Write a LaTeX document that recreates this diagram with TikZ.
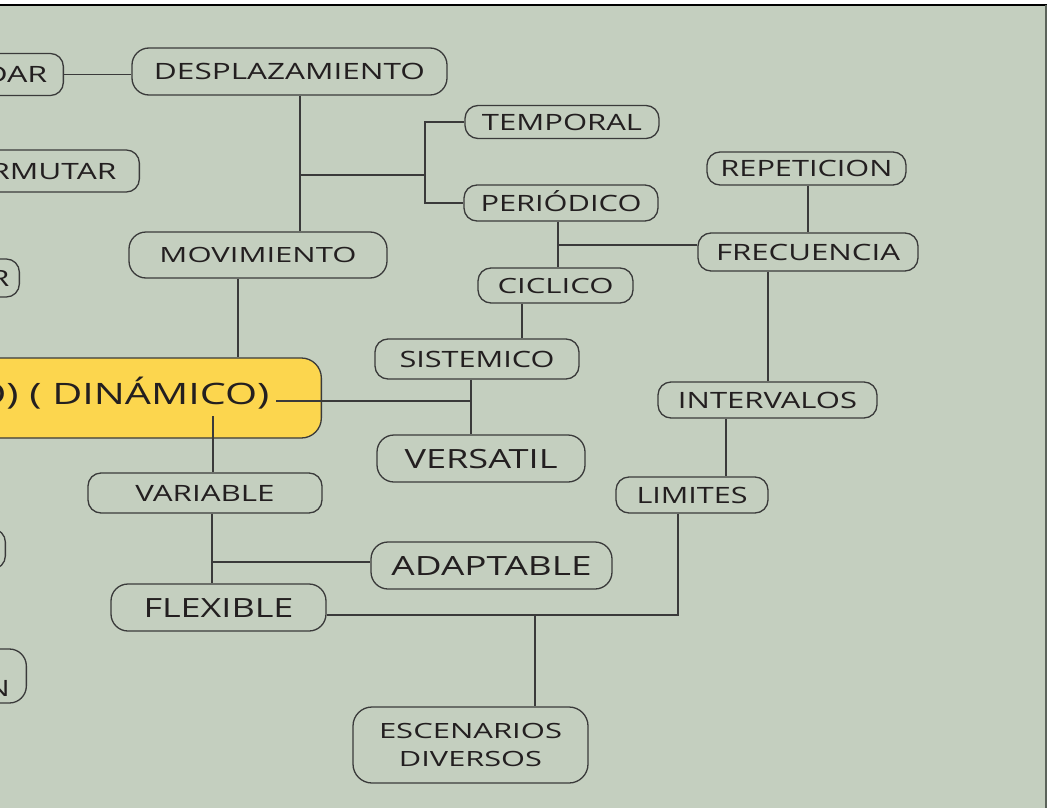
\documentclass[tikz,border=0pt]{standalone}
\usepackage{fontspec}
\setmainfont{Open Sans}
\usepackage{graphicx}
\definecolor{bg}{HTML}{C4CFBF}
\definecolor{yel}{HTML}{FCD64E}
\definecolor{linec}{HTML}{3A3A3A}
\definecolor{txt}{HTML}{231F20}
\definecolor{framec}{HTML}{5B635A}
\newcommand\tw[2]{\resizebox{#1pt}{\height}{#2}}
\begin{document}
\begin{tikzpicture}[x=1pt,y=-1pt,
  box/.style={draw=linec, line width=1.3pt, rounded corners=13pt, inner sep=0pt, text=txt},
  boxl/.style={box, rounded corners=17pt},
  fa/.style={font=\fontsize{22.5}{27}\selectfont, text height=16pt, text depth=0pt},
  fs/.style={font=\fontsize{21}{26}\selectfont, text height=15pt, text depth=0pt},
  fb/.style={font=\fontsize{26.5}{32}\selectfont, text height=19pt, text depth=0pt},
  con/.style={draw=linec, line width=1.3pt}]
\useasboundingbox (0,0) rectangle (1052,808);
\fill[white] (0,0) rectangle (1052,808);
\fill[bg] (0,5) rectangle (1046,808);
\begin{scope}
\clip (0,5) rectangle (1045,808);
% nodes
\node[boxl, fa, minimum width=315, minimum height=47] (desp) at (289.5,71.5) {\tw{271}{DESPLAZAMIENTO}};
\node[box, fa, minimum width=194, minimum height=33] (temp) at (562,122) {\tw{160}{TEMPORAL}};
\node[box, fa, minimum width=194, minimum height=36] (peri) at (561,203) {\tw{161}{PERIÓDICO}};
\node[box, fs, minimum width=155, minimum height=35] (cicl) at (555.5,285.5) {\tw{116}{CICLICO}};
\node[box, fa, minimum width=204, minimum height=40] (sist) at (477,359) {\tw{155}{SISTEMICO}};
\node[boxl, fb, minimum width=208, minimum height=47] (vers) at (481,458.5) {\tw{153}{VERSATIL}};
\node[box, fa, minimum width=199, minimum height=33] (repe) at (806.5,168.5) {\tw{172}{REPETICION}};
\node[box, fa, minimum width=220, minimum height=38] (frec) at (808,252) {\tw{184}{FRECUENCIA}};
\node[box, fa, minimum width=219, minimum height=36] (inte) at (767.5,400) {\tw{179}{INTERVALOS}};
\node[box, fa, minimum width=152, minimum height=36] (limi) at (692,495) {\tw{111}{LIMITES}};
\node[boxl, fs, minimum width=258, minimum height=46] (movi) at (258,255) {\tw{197}{MOVIMIENTO}};
\node[box, fa, minimum width=234, minimum height=40] (vari) at (205,493) {\tw{139}{VARIABLE}};
\node[boxl, fb, minimum width=215, minimum height=47] (flex) at (218.5,607.5) {\tw{150}{FLEXIBLE}};
\node[boxl, fb, minimum width=241, minimum height=47] (adap) at (491.5,565.5) {\tw{200}{ADAPTABLE}};
\node[boxl, rounded corners=19pt, font=\fontsize{21}{28}\selectfont, align=center, minimum width=235, minimum height=76] (esce) at (470.5,745) {\tw{183}{ESCENARIOS}\\\tw{143}{DIVERSOS}};
% partial nodes at the left edge
\node[box, fa, anchor=east, inner xsep=16pt, minimum height=42] (dar) at (64,74.5) {\tw{63}{DAR}};
\node[box, fa, anchor=east, inner xsep=23pt, minimum height=42] (rmut) at (140,171) {\tw{126}{RMUTAR}};
\node[box, fa, anchor=east, inner xsep=10pt, minimum height=38] (rr) at (20,278) {\tw{19}{R}};
\node[box, anchor=east, minimum width=100, minimum height=40] (e1) at (6,549) {};
\node[boxl, anchor=east, minimum width=100, minimum height=54] (e2) at (27,676) {};
\node[fa, text=txt, anchor=east, inner sep=0pt] (e2t) at (10,688.5) {\tw{23}{N}};
\node[draw=linec, fill=yel, line width=1.3pt, rounded corners=20pt, text=txt, anchor=east,
      inner xsep=52pt, inner ysep=0pt, minimum height=80,
      font=\fontsize{29.5}{36}\selectfont, text height=21pt, text depth=9pt] (cent) at (322,398) {\tw{295}{O) ( DINÁMICO)}};
% junction coordinates
\coordinate (jd) at (300,175);
\coordinate (jt) at (425,175);
\coordinate (jp) at (558,245);
\coordinate (xr) at (808,0);
\coordinate (xc) at (522,0);
\coordinate (cs) at (276,401);
\coordinate (js) at (471,401);
\coordinate (xm) at (238,0);
\coordinate (cv) at (213,416);
\coordinate (jv) at (212,562);
\coordinate (xf) at (768,0);
\coordinate (xi) at (726,0);
\coordinate (jl) at (678,615);
\coordinate (je) at (535,615);
% connectors
\draw[con] (dar.east) -- (dar.east -| desp.west);
\draw[con] (desp.south -| jd) -- (movi.north -| jd);
\draw[con] (jd) -- (jt);
\draw[con] (jt) |- (temp.west);
\draw[con] (jt) |- (peri.west);
\draw[con] (peri.south -| jp) -- (cicl.north -| jp);
\draw[con] (jp) -- (jp -| frec.west);
\draw[con] (repe.south -| xr) -- (frec.north -| xr);
\draw[con] (cicl.south -| xc) -- (sist.north -| xc);
\draw[con] (cs) -- (js);
\draw[con] (sist.south -| js) -- (vers.north -| js);
\draw[con] (movi.south -| xm) -- (cent.north -| xm);
\draw[con] (cv) -- (vari.north -| cv);
\draw[con] (vari.south -| jv) -- (flex.north -| jv);
\draw[con] (jv) -- (jv -| adap.west);
\draw[con] (frec.south -| xf) -- (inte.north -| xf);
\draw[con] (inte.south -| xi) -- (limi.north -| xi);
\draw[con] (limi.south -| jl) -- (jl) -- (jl -| flex.east);
\draw[con] (je) -- (esce.north -| je);
\end{scope}
\draw[black, line width=1.2pt] (0,5) -- (1047,5);
\draw[framec, line width=2.2pt] (1046,5) -- (1046,808);
\end{tikzpicture}
\end{document}
